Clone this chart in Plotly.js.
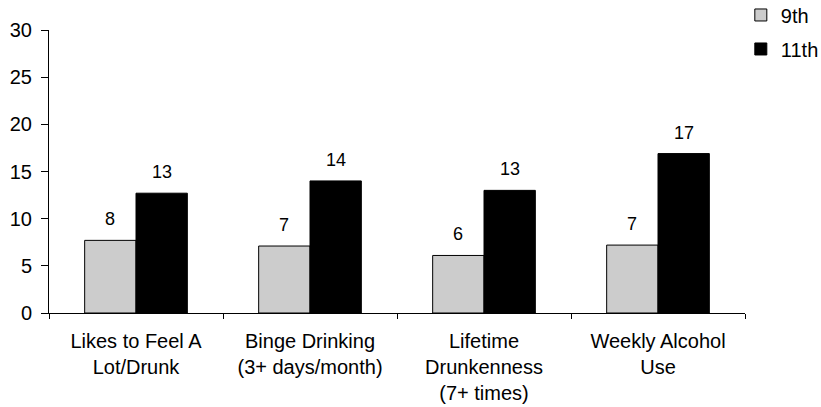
<!DOCTYPE html>
<html>
<head>
<meta charset="utf-8">
<script src="https://cdn.plot.ly/plotly-3.0.1.min.js"></script>
<style>html,body{margin:0;padding:0;background:#fff;}#chart{width:821px;height:407px;}</style>
</head>
<body>
<div id="chart"></div>
<script>
const categories = ["Likes to Feel A<br>Lot/Drunk", "Binge Drinking<br>(3+ days/month)", "Lifetime<br>Drunkenness<br>(7+ times)", "Weekly Alcohol<br>Use"];
const grade9 = [7.7, 7.1, 6.1, 7.2];
const grade11 = [12.7, 14.0, 13.0, 16.9];
const seriesNames = ["9th", "11th"];
const yTicks = [0, 5, 10, 15, 20, 25, 30];

const FONT = "Liberation Sans, Arial, sans-serif";

const traces = [
  {type: "bar", name: seriesNames[0], x: categories, y: grade9, legendgroup: "a",
   marker: {color: "#cccccc", line: {color: "#000000", width: 1}}, hoverinfo: "none"},
  {type: "bar", name: seriesNames[1], x: categories, y: grade11, legendgroup: "b",
   marker: {color: "#000000", line: {color: "#000000", width: 1}}, hoverinfo: "none"}
];

const half = 0.147;
const annotations = [];
[grade9, grade11].forEach((vals, s) => {
  vals.forEach((v, i) => {
    annotations.push({
      xref: "x", yref: "y", x: i + (s === 0 ? -half : half), y: v,
      text: String(Math.round(v)), showarrow: false, yanchor: "middle", yshift: 21,
      font: {family: FONT, size: 18, color: "#000"}
    });
  });
});

const layout = {
  width: 821, height: 407,
  margin: {l: 49, r: 76, t: 30, b: 93.5, autoexpand: false},
  paper_bgcolor: "#ffffff", plot_bgcolor: "#ffffff",
  font: {family: FONT, size: 20, color: "#000"},
  barmode: "group", bargap: 0.41, bargroupgap: 0,
  showlegend: true,
  legend: {x: 0.994, xanchor: "left", y: 1.122, yanchor: "top", traceorder: "grouped",
           tracegroupgap: 5, font: {family: FONT, size: 20, color: "#000"}, bgcolor: "rgba(0,0,0,0)"},
  xaxis: {type: "category", showline: true, linecolor: "#000", linewidth: 1,
          ticks: "outside", tickson: "boundaries", ticklen: 5, tickcolor: "#000",
          showgrid: false, zeroline: false, fixedrange: true, ticklabelstandoff: 10,
          tickfont: {family: FONT, size: 20, color: "#000"}},
  yaxis: {range: [0, 30], tickvals: yTicks, ticktext: yTicks.map(String),
          showline: true, linecolor: "#000", linewidth: 1,
          ticks: "outside", ticklen: 7, tickcolor: "#000", showgrid: false, zeroline: false,
          ticklabelstandoff: 5, tickfont: {family: FONT, size: 20, color: "#000"}},
  annotations: annotations
};

Plotly.newPlot("chart", traces, layout, {displayModeBar: false, staticPlot: true});
</script>
</body>
</html>
